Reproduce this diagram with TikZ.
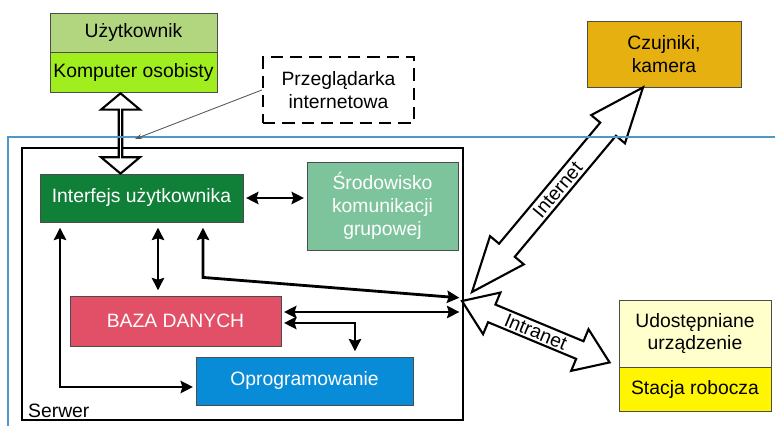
\documentclass[tikz,border=0pt]{standalone}
\usepackage{fontspec}
\setmainfont{Liberation Sans}
\usetikzlibrary{positioning,calc,shapes.arrows,arrows.meta}

\definecolor{usergreen}{RGB}{178,214,128}
\definecolor{pcgreen}{RGB}{160,238,30}
\definecolor{uigreen}{RGB}{16,128,56}
\definecolor{groupgreen}{RGB}{125,196,156}
\definecolor{dbred}{RGB}{226,80,104}
\definecolor{swblue}{RGB}{8,140,216}
\definecolor{sensororange}{RGB}{230,176,16}
\definecolor{devyellow}{RGB}{255,255,204}
\definecolor{wsyellow}{RGB}{255,245,0}
\definecolor{frameblue}{RGB}{80,150,200}

\newcommand\hollowarrow[4][]{%
  \path let \p1=($(#3)-(#2)$), \n1={atan2(\y1,\x1)}, \n2={veclen(\x1,\y1)} in
    node[hollow,#1,rotate=\n1,minimum height=\n2] at ($(#2)!.5!(#3)$) {#4};}

\begin{document}
\begin{tikzpicture}[x=0.02cm,y=-0.02cm,font=\fontsize{11}{13}\selectfont,
    box/.style={draw=gray!60!black,line width=.5pt,inner sep=1pt,align=center},
    dbl/.style={line width=1.6pt,{Stealth[length=7pt,width=7pt,inset=1pt]}-{Stealth[length=7pt,width=7pt,inset=1pt]},shorten <=1.5pt,shorten >=1.5pt},
    hollow/.style={double arrow,draw,line width=1.2pt,fill=white,inner sep=1pt}]
    \useasboundingbox (0,0) rectangle (775,426);

    % serwer
    \node[draw,line width=1.4pt,minimum width=8.82cm,minimum height=5.44cm] (serwer) at (242.5,284) {};
    \node[anchor=south west,inner xsep=4pt,inner ysep=2pt] (serwerlbl) at (serwer.south west) {Serwer};

    % boxes
    \node[box,fill=usergreen,minimum width=3.34cm,minimum height=.78cm] (uzyt) at (133.5,32.5) {Użytkownik};
    \node[box,fill=pcgreen,minimum width=3.34cm,minimum height=.8cm,below=0pt of uzyt] (komp) {Komputer osobisty};
    \node[box,draw=black,line width=1.3pt,dash pattern=on 7pt off 4pt,minimum width=3.02cm,minimum height=1.32cm] (przeg) at (338.5,90) {Przeglądarka\\internetowa};
    \node[box,fill=uigreen,text=white,minimum width=4.06cm,minimum height=.96cm] (interfejs) at (141.5,198) {Interfejs użytkownika};
    \node[box,fill=groupgreen,text=white,minimum width=3.02cm,minimum height=1.76cm] (srod) at (382.5,206) {Środowisko\\komunikacji\\grupowej};
    \node[box,fill=dbred,text=white,minimum width=4.22cm,minimum height=1cm] (baza) at (175.5,321) {BAZA DANYCH};
    \node[box,fill=swblue,text=white,minimum width=4.34cm,minimum height=.96cm] (oprog) at (304.5,381) {Oprogramowanie};
    \node[box,fill=sensororange,minimum width=3.08cm,minimum height=1.32cm] (czuj) at (664,54) {Czujniki,\\kamera};
    \node[box,fill=devyellow,minimum width=3.04cm,minimum height=1.34cm] (udost) at (695,333.5) {Udostępniane\\urządzenie};
    \node[box,fill=wsyellow,minimum width=3.04cm,minimum height=.88cm,below=0pt of udost] (stacja) {Stacja robocza};

    \coordinate (hub) at (462,301);
    \coordinate (inet) at (472,292);
    \coordinate (ptr) at (135,139);
    \coordinate (pcend) at ([xshift=-.26cm]komp.south);
    \coordinate (uiend) at (pcend |- interfejs.north);
    \coordinate (camend) at ([xshift=-.42cm]czuj.south);
    \coordinate (wsend) at ([shift={(-.18cm,.1cm)}]stacja.north west);

    % connectors inside the server
    \draw[dbl] (interfejs.east) -- (interfejs.east -| srod.west);
    \draw[dbl,shorten <=3pt,shorten >=3pt] ([xshift=.33cm]interfejs.south) -- ([xshift=.33cm]interfejs.south |- baza.north);
    \draw[dbl,shorten <=3pt] ([xshift=-1.63cm]interfejs.south) |- ([yshift=-.12cm]oprog.west);
    \draw[dbl,shorten <=3pt] ([xshift=1.23cm]interfejs.south) -- ++(0,-1.1cm) -- ([yshift=.06cm]hub);
    \draw[dbl] ([yshift=.18cm]baza.east) -- ([yshift=.18cm]baza.east -| hub);
    \draw[dbl,shorten >=3pt] ([yshift=-.04cm]baza.east) -| ([xshift=1.01cm]oprog.north);

    % hollow arrows
    \hollowarrow[double arrow tip angle=100,double arrow head extend=.22cm,minimum width=.78cm,inner sep=0pt]{pcend}{uiend}{}
    \hollowarrow[double arrow tip angle=44,double arrow head extend=.22cm,minimum width=.88cm]{inet}{camend}{Internet}
    \hollowarrow[double arrow tip angle=70,double arrow head extend=.26cm,minimum width=.88cm]{hub}{wsend}{Intranet}

    \draw[frameblue,line width=.6pt] (775,137) -| (8,426);
    \draw[gray!70!black,line width=.5pt,-{Stealth[length=4pt,width=3pt]}] (przeg.west) -- (ptr);
\end{tikzpicture}
\end{document}
